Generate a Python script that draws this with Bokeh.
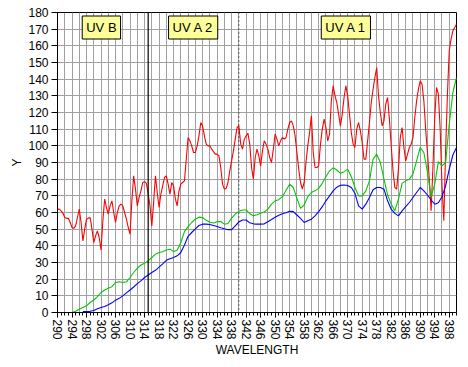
import numpy as np
from bokeh.plotting import figure
from bokeh.models import Range1d, SingleIntervalTicker, Span, Label, FixedTicker
from bokeh.embed import file_html
from bokeh.resources import INLINE

# ---- data ----
red_wl = np.arange(290, 400.01, 0.5)
red_y = [
    62, 62, 61, 59.5, 57, 56.5, 56.5, 54, 51, 50.5,
    52, 57, 62, 54, 43, 50, 56, 56.5, 57, 50,
    42, 46, 49, 45, 37.5, 55, 68, 63, 59, 64,
    67, 60, 54, 60, 64, 65, 64, 60, 56, 51,
    47, 67, 82, 74, 64, 69, 73, 78, 78.5, 77.5,
    71, 64, 52, 66, 82, 72, 63, 71, 76, 81,
    82, 77, 71, 78, 76, 68, 64, 73, 77, 78,
    79, 92, 105, 103, 100, 96, 96, 100, 106, 114,
    112, 106, 101, 100, 100, 98, 96.5, 95, 95, 94,
    87, 77, 74, 74.5, 78, 85, 91, 97, 104, 111,
    112, 101, 98, 104, 106, 107.5, 101, 87, 80, 93,
    98, 94, 88, 97, 103, 101, 98, 93, 90, 98,
    107, 104, 100, 103, 105, 104, 105, 110, 114, 115,
    112, 106, 96, 86, 78, 74, 78, 90, 100, 108,
    118, 96, 87, 87, 88, 101, 110, 116, 111, 103,
    107, 127, 136, 130, 126, 119, 112, 119, 129, 136,
    130, 119, 108, 101, 99, 110, 114, 109, 102, 92,
    92, 103, 114, 126, 134, 141, 147, 130, 120, 112,
    115, 125, 129, 116, 100, 85, 75, 74, 86, 105,
    111, 99, 91, 95, 99, 101, 105, 117, 127, 134,
    139, 137, 127, 110, 96, 80, 61, 87, 117, 135,
    131, 110, 76, 55, 97, 131, 157, 164, 169, 171,
    173,
]

green_wl = np.arange(294, 401)
green_y = [
    0, 0.8, 2, 3, 4, 6, 7.5, 9.5, 12, 13.5,
    14.5, 15.5, 18, 18.4, 18, 18.4, 21, 24, 26.5, 28.5,
    29.5, 31, 33, 35, 36, 36.4, 37.5, 38, 36.5, 37.5,
    42, 48.5, 51.5, 54, 56, 57.2, 57, 55.3, 54.2, 53.7,
    54.5, 54.6, 53, 53.4, 56.6, 59, 60.7, 61.5, 61.5, 59.3,
    58, 58.7, 59.5, 60.3, 62, 65, 67, 67.7, 69.5, 73.3,
    77, 75, 68.5, 62.5, 64.5, 69.5, 72, 73, 74.5, 77.5,
    81.5, 85, 86.8, 85.5, 83.5, 84.5, 86, 81.5, 75, 70,
    70, 73, 79, 92, 95, 90, 80, 70.5, 65, 61,
    68, 77.5, 79, 80, 83, 91, 99, 96, 84, 69.5,
    77, 90.5, 88, 90, 113, 132, 141,
]

blue_wl = np.arange(297, 401)
blue_y = [
    0.5, 0.6, 0.7, 1.2, 2.2, 3, 3.6, 4.6, 5.8, 7.4,
    8.5, 10, 11.8, 13.5, 15.3, 17.3, 19, 21, 22.5, 24,
    25.3, 27.2, 29.2, 31.3, 32.3, 33, 34, 36, 40.5, 45.7,
    48, 50.2, 52.2, 53, 53, 52.8, 52.2, 51.6, 50.8, 50.2,
    49.7, 49.7, 52, 54.3, 55.5, 55.5, 53.8, 53.2, 53, 53,
    53.2, 54.5, 55.8, 57.2, 58.3, 59.2, 59.8, 60.7, 60.5, 58.5,
    56.5, 54, 55, 56, 58, 60.5, 63.5, 67, 70, 73,
    75.2, 76.3, 76.5, 76.2, 75, 71.5, 64, 62, 65, 69,
    73.6, 75, 75, 74, 67, 62, 59.5, 58, 61, 63.5,
    66, 69, 72, 75, 73, 70.5, 67.5, 65, 65.8, 69.5,
    76, 86, 94.5, 99,
]

band_edges = [315, 340]
band_names = ["UV B", "UV A 2", "UV A 1"]
band_label_x = [302.1, 327.4, 369.5]
band_label_y = 171

FONT = "Liberation Sans"

p = figure(output_backend="svg", toolbar_location=None,
           x_range=Range1d(290, 400), y_range=Range1d(0, 180),
           min_border_left=57, min_border_right=10, min_border_top=12, min_border_bottom=53)
p.frame_width = 399
p.frame_height = 300
p.background_fill_color = "white"
p.border_fill_color = "white"
p.outline_line_color = "black"
p.outline_line_width = 1

# grids
p.xgrid.ticker = SingleIntervalTicker(interval=2)
p.ygrid.ticker = SingleIntervalTicker(interval=10)
for g in (p.xgrid, p.ygrid):
    g.grid_line_color = "#A0A0A0"
    g.grid_line_width = 1

# axes
p.xaxis.ticker = FixedTicker(ticks=list(range(290, 400, 4)), minor_ticks=list(range(290, 401, 1)))
p.yaxis.ticker = SingleIntervalTicker(interval=10, num_minor_ticks=0)
p.xaxis.major_label_orientation = "vertical"
for ax in (p.xaxis, p.yaxis):
    ax.axis_line_color = "black"
    ax.major_tick_line_color = "black"
    ax.minor_tick_line_color = "black"
    ax.major_tick_in = 0
    ax.minor_tick_in = 0
    ax.major_tick_out = 6
    ax.minor_tick_out = 4
    ax.major_label_text_font = FONT
    ax.major_label_text_font_size = "12px"
    ax.major_label_text_color = "black"
    ax.axis_label_text_font = FONT
    ax.axis_label_text_font_size = "12px"
    ax.axis_label_text_font_style = "normal"
    ax.axis_label_text_color = "black"
    ax.major_label_standoff = 3
p.xaxis.major_tick_out = 5
p.xaxis.minor_tick_out = 3
p.xaxis.major_label_standoff = 2
p.yaxis.minor_tick_line_color = None
p.xaxis.axis_label = "WAVELENGTH"
p.yaxis.axis_label = "Y"
p.xaxis.axis_label_standoff = 0
p.yaxis.axis_label_standoff = 1

# series
p.line(red_wl, red_y, line_color="#FF0000", line_width=1.1)
p.line(green_wl, green_y, line_color="#00C800", line_width=1.1)
p.line(blue_wl, blue_y, line_color="#0000FF", line_width=1.1)

# band boundaries
p.add_layout(Span(location=band_edges[0], dimension="height", line_color="black", line_width=1.2))
p.add_layout(Span(location=band_edges[1], dimension="height", line_color="black", line_width=1,
                  line_dash="1 3"))

for name, bx in zip(band_names, band_label_x):
    p.add_layout(Label(x=bx, y=band_label_y, text=name, text_align="center", text_baseline="middle",
                       text_font=FONT, text_font_size="13px", text_color="black",
                       background_fill_color="#FFFF99", border_line_color="black",
                       border_line_width=1, padding=4))

open("out.html", "w").write(file_html(p, INLINE))
